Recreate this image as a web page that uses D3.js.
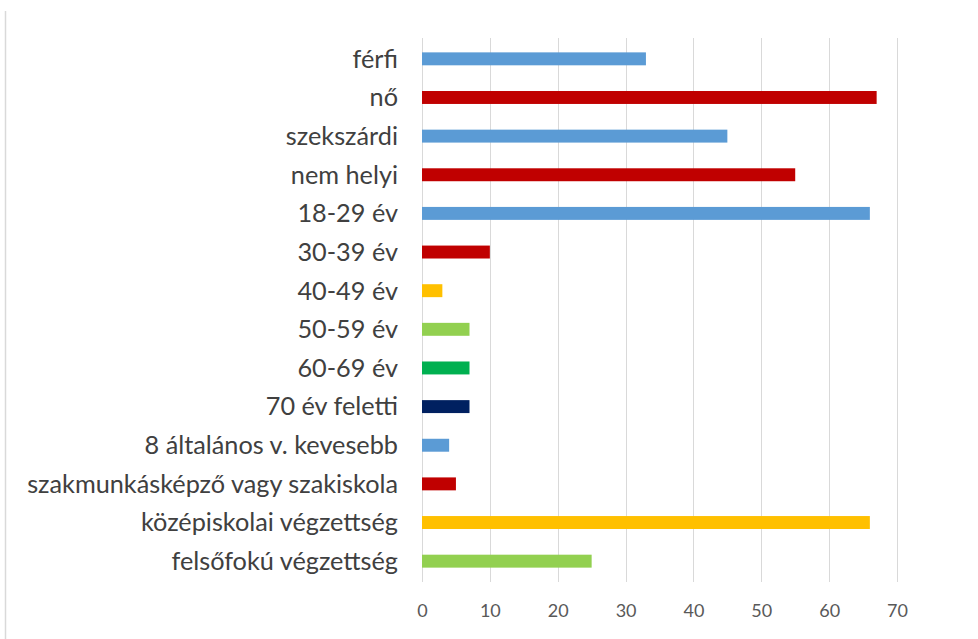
<!DOCTYPE html>
<html>
<head>
<meta charset="utf-8">
<script src="https://cdn.jsdelivr.net/npm/d3@7"></script>
<style>
  html, body { margin: 0; padding: 0; background: #fff; }
  svg { display: block; }
  text { font-family: Lato, "Open Sans", sans-serif; }
</style>
</head>
<body>
<svg id="chart" width="978" height="639"></svg>
<script>
const categories = [
  "férfi", "nő", "szekszárdi", "nem helyi", "18-29 év", "30-39 év", "40-49 év",
  "50-59 év", "60-69 év", "70 év feletti", "8 általános v. kevesebb",
  "szakmunkásképző vagy szakiskola", "középiskolai végzettség", "felsőfokú végzettség"
];
const values = [33, 67, 45, 55, 66, 10, 3, 7, 7, 7, 4, 5, 66, 25];
const colors = [
  "#5B9BD5", "#C00000", "#5B9BD5", "#C00000", "#5B9BD5", "#C00000", "#FFC000",
  "#92D050", "#00B050", "#002060", "#5B9BD5", "#C00000", "#FFC000", "#92D050"
];
const tickValues = [0, 10, 20, 30, 40, 50, 60, 70];

const svg = d3.select("#chart");

// faint outer frame (left edge of chart area)
svg.append("line")
  .attr("x1", 5.5).attr("x2", 5.5).attr("y1", 11).attr("y2", 639)
  .attr("stroke", "#d9d9d9").attr("stroke-width", 1.5);

const x = d3.scaleLinear().domain([0, 70]).range([422, 897]);
const y = d3.scaleBand().domain(categories).range([39.5, 580.5])
  .paddingInner(0.665).paddingOuter(0.333);

// gridlines
svg.append("g").selectAll("line")
  .data(tickValues)
  .join("line")
  .attr("x1", d => Math.round(x(d)) + 0.5)
  .attr("x2", d => Math.round(x(d)) + 0.5)
  .attr("y1", 38).attr("y2", 582)
  .attr("stroke", "#d9d9d9").attr("stroke-width", 1);

// bars
svg.append("g").selectAll("rect")
  .data(categories)
  .join("rect")
  .attr("x", x(0))
  .attr("y", d => y(d))
  .attr("width", (d, i) => x(values[i]) - x(0))
  .attr("height", y.bandwidth())
  .attr("fill", (d, i) => colors[i]);

// category labels
const labels = svg.append("g").selectAll("text")
  .data(categories)
  .join("text")
  .attr("x", 398)
  .attr("y", d => y(d) + y.bandwidth() / 2)
  .attr("dy", "0.35em")
  .attr("text-anchor", "end")
  .attr("fill", "#404040")
  .attr("font-size", 18)
  .text(d => d);

// fit longest label width to ~371px
let maxW = 0;
labels.each(function() { maxW = Math.max(maxW, this.getComputedTextLength()); });
const fs = 18 * 371 / maxW;
labels.attr("font-size", fs);

// x axis tick labels
const axis = d3.axisBottom(x).tickValues(tickValues).tickSize(0).tickPadding(0);
const ax = svg.append("g").attr("transform", "translate(0,604)").call(axis);
ax.select(".domain").remove();
ax.selectAll("text")
  .attr("font-size", 18)
  .attr("fill", "#595959")
  .attr("font-family", "Lato, 'Open Sans', sans-serif");
</script>
</body>
</html>
